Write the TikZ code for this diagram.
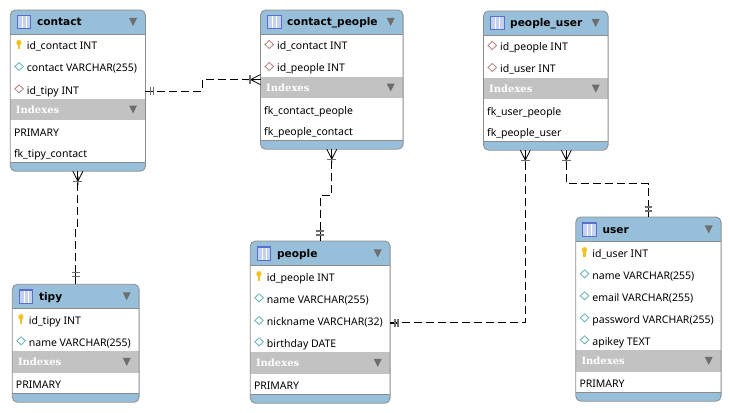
\documentclass[tikz,border=0pt]{standalone}
\usepackage{fontspec}
\setmainfont{Noto Sans}
\newfontfamily\idxfont{DejaVu Serif}
\newfontfamily\titlefont{DejaVu Sans}
\usetikzlibrary{calc}
\definecolor{bandblue}{HTML}{98BFDA}
\definecolor{bandgray}{HTML}{C2C2C2}
\definecolor{edgegray}{HTML}{8C8C8C}
\definecolor{trigray}{HTML}{6E6E6E}
\definecolor{barblue}{HTML}{5A6FCC}
\definecolor{cellblue}{HTML}{C4D2F0}
\definecolor{keygold}{HTML}{F2C21F}
\definecolor{dialteal}{HTML}{63B0B5}
\definecolor{dialred}{HTML}{B88080}
\tikzset{
  tablebox/.style={rectangle,rounded corners=5pt,inner sep=0pt,anchor=north west},
  rowtext/.style={inner sep=0pt,anchor=west,text height=8pt,text depth=2pt,yshift=-1.2pt,font=\fontsize{10.5}{12}\selectfont,text=black},
  titletext/.style={inner sep=0pt,anchor=west,text height=9pt,text depth=2pt,yshift=-0.5pt,font=\titlefont\fontsize{10.6}{13}\bfseries\selectfont,text=black},
  idxtext/.style={inner sep=0pt,anchor=west,text height=8pt,text depth=2pt,yshift=-0.5pt,font=\idxfont\fontsize{10}{11}\bfseries\selectfont,text=white},
  rel/.style={draw=black,line width=0.9pt,dash pattern=on 8pt off 4pt},
  reltip/.style={draw=black,line width=0.8pt},
  relbar/.style={draw=trigray,line width=1.5pt},
  trimark/.style={fill=trigray,draw=none},
}
% #1 id  #2 title  #3 x0  #4 x1  #5 y0  #6 header bottom  #7 index top  #8 index bottom  #9 footer top
\newcommand{\tbl}[9]{%
  \pgfmathsetmacro{\tW}{#4-#3}%
  \pgfmathsetmacro{\tYe}{#9+8.8}%
  \pgfmathsetmacro{\tH}{\tYe-#5}%
  \pgfmathsetmacro{\tHm}{(#5+#6)/2}%
  \pgfmathsetmacro{\tIm}{(#7+#8)/2}%
  \pgfmathsetmacro{\tTri}{#4-12}%
  \node[tablebox,fill=white,minimum width=\tW pt,minimum height=\tH pt] (#1) at (#3,#5) {};
  \begin{scope}
    \clip[rounded corners=5pt] (#1.north west) rectangle (#1.south east);
    \fill[bandblue] (#3,#5) rectangle (#4,#6);
    \fill[bandgray] (#3,#7) rectangle (#4,#8);
    \fill[bandblue] (#3,#9) rectangle (#4,\tYe);
  \end{scope}
  \draw[edgegray,line width=0.8pt,rounded corners=5pt] (#1.north west) rectangle (#1.south east);
  \draw[edgegray,line width=0.7pt] (#3,#6) -- (#4,#6) (#3,#9) -- (#4,#9);
  \fill[barblue] ($(#3,\tHm)+(6.5,-7)$) rectangle ($(#3,\tHm)+(21,7.5)$);
  \fill[cellblue] ($(#3,\tHm)+(7.5,-5.5)$) rectangle ($(#3,\tHm)+(20,6.5)$);
  \draw[white,line width=0.5pt] ($(#3,\tHm)+(11.5,-5.5)$) -- ++(0,12) ($(#3,\tHm)+(15.5,-5.5)$) -- ++(0,12);
  \node[titletext] (#1-title) at ($(#3,\tHm)+(26.5,0)$) {#2};
  \node[idxtext] (#1-idx) at ($(#3,\tIm)+(5.5,0)$) {Indexes};
  \fill[trimark] ($(\tTri,\tHm)+(-4,-4)$) -- ++(8,0) -- ++(-4,8) -- cycle;
  \fill[trimark] ($(\tTri,\tIm)+(-4,-4)$) -- ++(8,0) -- ++(-4,8) -- cycle;
}
\newcommand{\keyrow}[4]{% id, x0, y, text
  \fill[keygold] ($(#2,#3)+(7.4,-5)$) rectangle ($(#2,#3)+(9.8,3.5)$);
  \fill[keygold] ($(#2,#3)+(8.6,-3)$) ellipse (2.6pt and 2.9pt);
  \node[rowtext] (#1) at ($(#2,#3)+(16.4,0)$) {#4};
}
\newcommand{\diarow}[5]{% colour, id, x0, y, text
  \draw[#1,fill=white,line width=0.8pt] ($(#3,#4)+(4.5,-1.2)$) -- ++(4.3,-4) -- ++(4.3,4) -- ++(-4.3,4) -- cycle;
  \node[rowtext] (#2) at ($(#3,#4)+(16.4,0)$) {#5};
}
\newcommand{\idxrow}[4]{\node[rowtext] (#1) at ($(#2,#3)+(3.5,0)$) {#4};}
\newcommand{\crowmark}[2]{% position, rotation
  \begin{scope}[shift={(#1)},rotate=#2]
    \draw[reltip] (0,-5) -- (10,0) -- (0,5) (5,0) -- (14,0);
    \draw[relbar] (10.5,-4.6) -- (10.5,4.6);
  \end{scope}
}
\newcommand{\onemark}[4]{% position, rotation, near tick, far tick
  \begin{scope}[shift={(#1)},rotate=#2]
    \draw[reltip] (0,0) -- (#4+1,0);
    \draw[relbar,line width=1.3pt] (#3,-3.8) -- (#3,3.8) (#4,-3.8) -- (#4,3.8);
  \end{scope}
}
\begin{document}
\begin{tikzpicture}[x=1pt,y=-1pt]
\useasboundingbox[fill=white] (0,0) rectangle (730,412);

\tbl{contact}{contact}{10.3}{145}{10}{34}{99}{120}{162}
\keyrow{contact-r1}{10.3}{45.7}{id\_contact INT}
\diarow{dialteal}{contact-r2}{10.3}{67.7}{contact VARCHAR(255)}
\diarow{dialred}{contact-r3}{10.3}{90}{id\_tipy INT}
\idxrow{contact-i1}{10.3}{132}{PRIMARY}
\idxrow{contact-i2}{10.3}{153}{fk\_tipy\_contact}

\tbl{cpeople}{contact\_people}{260.5}{402.7}{10}{34}{77}{98}{140}
\diarow{dialred}{cpeople-r1}{260.5}{45.7}{id\_contact INT}
\diarow{dialred}{cpeople-r2}{260.5}{67.7}{id\_people INT}
\idxrow{cpeople-i1}{260.5}{110}{fk\_contact\_people}
\idxrow{cpeople-i2}{260.5}{131}{fk\_people\_contact}

\tbl{puser}{people\_user}{483.5}{607.7}{11}{35}{78.3}{99}{141}
\diarow{dialred}{puser-r1}{483.5}{46.7}{id\_people INT}
\diarow{dialred}{puser-r2}{483.5}{68.7}{id\_user INT}
\idxrow{puser-i1}{483.5}{111}{fk\_user\_people}
\idxrow{puser-i2}{483.5}{132}{fk\_people\_user}

\tbl{user}{user}{575.8}{720.7}{217}{241.7}{350}{371.7}{392}
\keyrow{user-r1}{575.8}{253}{id\_user INT}
\diarow{dialteal}{user-r2}{575.8}{275}{name VARCHAR(255)}
\diarow{dialteal}{user-r3}{575.8}{297}{email VARCHAR(255)}
\diarow{dialteal}{user-r4}{575.8}{319}{password VARCHAR(255)}
\diarow{dialteal}{user-r5}{575.8}{341}{apikey TEXT}
\idxrow{user-i1}{575.8}{383}{PRIMARY}

\tbl{people}{people}{250.3}{389.7}{241}{265.7}{352}{373.7}{394}
\keyrow{people-r1}{250.3}{277}{id\_people INT}
\diarow{dialteal}{people-r2}{250.3}{299}{name VARCHAR(255)}
\diarow{dialteal}{people-r3}{250.3}{321.7}{nickname VARCHAR(32)}
\diarow{dialteal}{people-r4}{250.3}{343}{birthday DATE}
\idxrow{people-i1}{250.3}{385}{PRIMARY}

\tbl{tipy}{tipy}{12.3}{138.7}{284.3}{308.3}{351}{372.7}{393}
\keyrow{tipy-r1}{12.3}{320}{id\_tipy INT}
\diarow{dialteal}{tipy-r2}{12.3}{342}{name VARCHAR(255)}
\idxrow{tipy-i1}{12.3}{384}{PRIMARY}

% connector ends
\coordinate (c-east) at (contact.east |- contact-r3);
\coordinate (p-east) at (people.east |- people-r3);
\coordinate (pu-a) at ([xshift=-20.5pt]puser.south);
\coordinate (pu-b) at ([xshift=20.5pt]puser.south);

\draw[rel] (c-east) -- ++(57,0) |- (cpeople.west);
\draw[rel] (contact.south) -- ++(0,57) -| (tipy.north);
\draw[rel] (cpeople.south) -- ++(0,46) -| (people.north);
\draw[rel] (p-east) -| (pu-a);
\draw[rel] (pu-b) -- ++(0,33.5) -| (user.north);

\onemark{c-east}{0}{5}{8}
\crowmark{cpeople.west}{180}
\crowmark{contact.south}{-90}
\onemark{tipy.north}{90}{8}{12}
\crowmark{cpeople.south}{-90}
\onemark{people.north}{90}{6}{10}
\onemark{p-east}{0}{5}{8}
\crowmark{pu-a}{-90}
\crowmark{pu-b}{-90}
\onemark{user.north}{90}{6}{10}
\end{tikzpicture}
\end{document}
